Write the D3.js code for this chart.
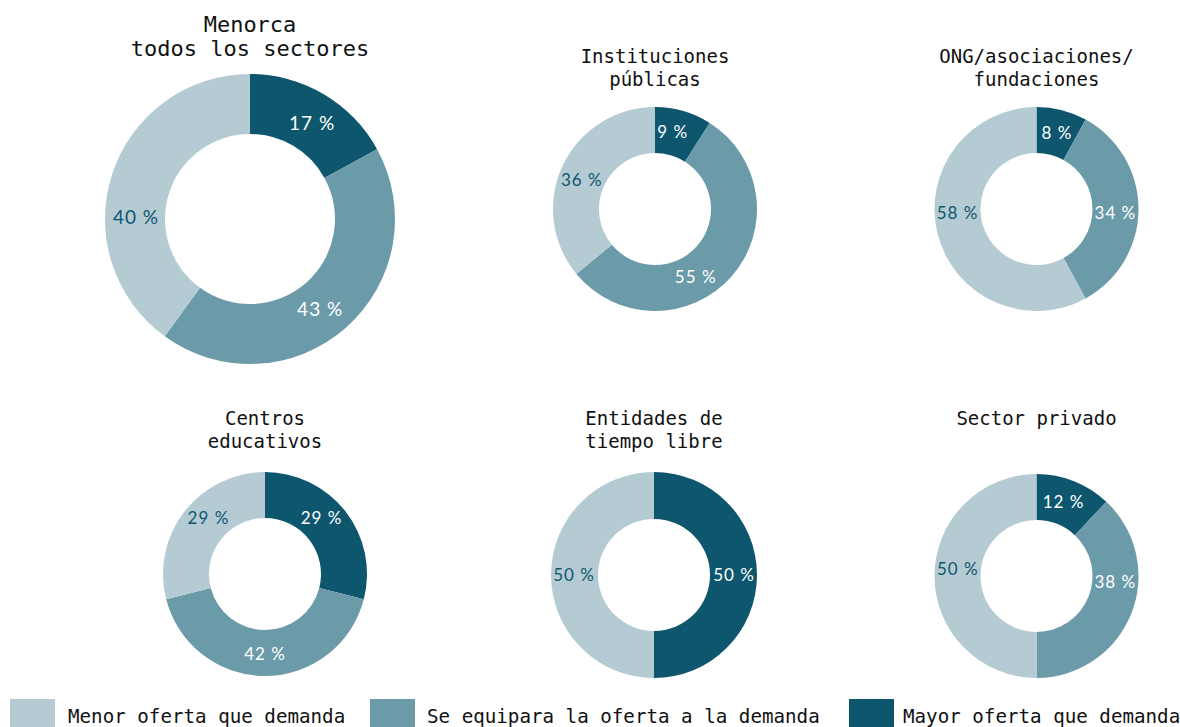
<!DOCTYPE html>
<html><head><meta charset="utf-8">
<script src="https://cdn.jsdelivr.net/npm/d3@7"></script>
<style>
body{margin:0;background:#fff;}
svg{display:block;}
</style></head>
<body>
<svg id="c" width="1180" height="727"></svg>
<script>
const categories = ["Mayor oferta que demanda","Se equipara la oferta a la demanda","Menor oferta que demanda"];
const legendOrder = ["Menor oferta que demanda","Se equipara la oferta a la demanda","Mayor oferta que demanda"];
const colors = ["#0d566e","#6b9aa9","#b5cbd4"];
const labelColors = ["#ffffff","#ffffff","#0d566e"];
const titles = [["Menorca","todos los sectores"],["Instituciones","públicas"],["ONG/asociaciones/","fundaciones"],["Centros","educativos"],["Entidades de","tiempo libre"],["Sector privado"]];
const mayor    = [17, 9, 8, 29, 50, 12];
const equipara = [43, 55, 34, 42, 0, 38];
const menor    = [40, 36, 58, 29, 50, 50];

// layout (positions / sizes)
const layout = [
  {cx:250, cy:219, r:145, ir:85, lr:114, ty:32, fs:22, lfs:19},
  {cx:655, cy:209, r:102, ir:56, lr:79, ty:63, fs:19, lfs:17},
  {cx:1036.5, cy:209, r:102, ir:56, lr:79, ty:63, fs:19, lfs:17},
  {cx:265, cy:574, r:102, ir:56, lr:80, ty:425, fs:19, lfs:17},
  {cx:654, cy:575, r:103, ir:56, lr:80, ty:425, fs:19, lfs:17},
  {cx:1036.5, cy:576, r:102, ir:56, lr:79, ty:425, fs:19, lfs:17}
];
// label placement angles (degrees clockwise from top) for [Mayor, Equipara, Menor]
const labelAngles = [[33,142,271],[13,149,292],[15,93,267],[45,180,315],[90,0,270],[20,94,275]];

const svg = d3.select("#c");
const mono = "'DejaVu Sans Mono', 'Liberation Mono', monospace";
const sans = "Lato, 'Noto Sans', sans-serif";
const color = d3.scaleOrdinal().domain(categories).range(colors);
const lcolor = d3.scaleOrdinal().domain(categories).range(labelColors);
const pie = d3.pie().sort(null).value(d => d.v);

titles.forEach((t, i) => {
  const L = layout[i];
  const data = categories.map((c, k) => ({c, k, v: [mayor, equipara, menor][k][i]}));
  const g = svg.append("g").attr("transform", `translate(${L.cx},${L.cy})`);
  const arc = d3.arc().innerRadius(L.ir).outerRadius(L.r);
  const arcs = pie(data);
  g.selectAll("path").data(arcs).join("path")
    .attr("d", arc).attr("fill", d => color(d.data.c));
  const pos = d => {
    const a = labelAngles[i][d.data.k] * Math.PI / 180;
    return [L.lr * Math.sin(a), -L.lr * Math.cos(a)];
  };
  g.selectAll("text").data(arcs.filter(d => d.data.v > 0)).join("text")
    .attr("transform", d => `translate(${pos(d)})`)
    .attr("text-anchor", "middle").attr("dy", "0.36em")
    .attr("font-family", sans).attr("font-size", L.lfs).attr("letter-spacing", "1px")
    .attr("fill", d => lcolor(d.data.c))
    .text(d => d.data.v + " %");
  const tt = svg.append("text").attr("text-anchor", "middle")
    .attr("font-family", mono).attr("font-size", L.fs).attr("fill", "#111");
  t.forEach((line, j) => {
    tt.append("tspan").attr("x", L.cx).attr("y", L.ty + j * (i === 0 ? 24 : 23)).text(line);
  });
});

// legend
const lx = [10, 370, 849];
const tx = [68, 427, 903];
const lg = svg.append("g");
legendOrder.forEach((c, i) => {
  lg.append("rect").attr("x", lx[i]).attr("y", 699).attr("width", 45).attr("height", 45).attr("fill", color(c));
  lg.append("text").attr("x", tx[i]).attr("y", 723)
    .attr("font-family", mono).attr("font-size", 19)
    .attr("textLength", c.length * 11.55).attr("lengthAdjust", "spacingAndGlyphs")
    .attr("fill", "#111").text(c);
});
</script>
</body></html>
